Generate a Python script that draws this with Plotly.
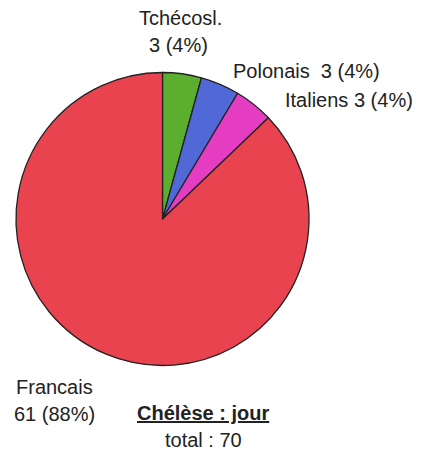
import plotly.graph_objects as go

labels = ["Tchécosl.", "Polonais", "Italiens", "Francais"]
values = [3, 3, 3, 61]
percents = ["4%", "4%", "4%", "88%"]
colors = ["#5BAE2E", "#5069D6", "#E53DC2", "#E8434F"]
title_text = "Chélèse : jour"
total_text = "total : 70"

# page has an 8px body margin; map page coords to figure coords
OFF = 8
W, H = 426, 446

def px(x):
    return (x - OFF) / W

def py(y):
    return 1 - (y - OFF) / H

fig = go.Figure(go.Pie(
    labels=labels, values=values, sort=False, direction="clockwise", rotation=0,
    marker=dict(colors=colors, line=dict(color="#222222", width=1.3)),
    textinfo="none", hoverinfo="label+value+percent", showlegend=False,
    domain=dict(x=[px(16), px(309)], y=[py(366), py(72)]),
))

font = dict(family="Liberation Sans, Arial, sans-serif", size=20, color="#222222")
ann = [
    dict(x=180, y=18, text=labels[0], xanchor="center"),
    dict(x=178, y=45, text=f"{values[0]} ({percents[0]})", xanchor="center"),
    dict(x=231, y=71, text=f"{labels[1]}  {values[1]} ({percents[1]})", xanchor="left"),
    dict(x=283, y=100, text=f"{labels[2]} {values[2]} ({percents[2]})", xanchor="left"),
    dict(x=54, y=387, text=labels[3], xanchor="center"),
    dict(x=54, y=414, text=f"{values[3]} ({percents[3]})", xanchor="center"),
    dict(x=203, y=413, text=f"<b><u>{title_text}</u></b>", xanchor="center"),
    dict(x=203, y=440, text=total_text, xanchor="center"),
]
annotations = []
for a in ann:
    annotations.append(dict(
        x=px(a["x"]), y=py(a["y"]), xref="paper", yref="paper",
        text=a["text"], xanchor=a["xanchor"], yanchor="middle",
        showarrow=False, font=font,
    ))

fig.update_layout(
    width=W, height=H, margin=dict(l=0, r=0, t=0, b=0),
    paper_bgcolor="white", plot_bgcolor="white",
    annotations=annotations,
)
fig.write_html("out.html")
